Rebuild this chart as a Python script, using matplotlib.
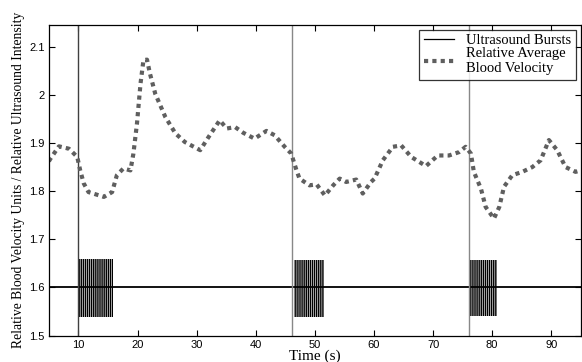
#!/usr/bin/env python3
"""Ultrasound bursts vs relative average blood velocity."""

import matplotlib

matplotlib.use("Agg")
import matplotlib.pyplot as plt
from matplotlib.lines import Line2D
from matplotlib.ticker import FormatStrFormatter

# Relative average blood velocity.
vel_t = [5.0, 5.3, 6.7, 8.4, 9.8, 10.3, 10.9, 11.7, 14.3, 15.7, 16.5, 17.6, 18.8,
         19.3, 19.9, 20.5, 21.0, 21.6, 22.1, 23.0, 24.7, 26.4, 28.0, 30.6, 32.0,
         33.9, 35.1, 36.5, 37.9, 39.8, 41.8, 43.2, 44.9, 46.0, 46.9, 47.4, 49.1,
         50.3, 51.7, 53.1, 54.2, 55.3, 57.0, 58.1, 59.5, 60.1, 61.5, 63.2, 64.6,
         66.3, 68.8, 70.8, 72.7, 74.4, 75.5, 76.4, 76.9, 78.1, 78.9, 80.3, 81.2,
         82.0, 83.4, 85.1, 86.8, 88.2, 89.6, 91.0, 92.4, 94.1, 95.0]
vel_v = [1.862, 1.868, 1.893, 1.888, 1.871, 1.843, 1.816, 1.798, 1.788, 1.798,
         1.833, 1.847, 1.843, 1.878, 1.940, 2.023, 2.072, 2.073, 2.044, 2.002,
         1.954, 1.920, 1.902, 1.885, 1.912, 1.947, 1.930, 1.933, 1.921, 1.909,
         1.925, 1.916, 1.892, 1.878, 1.843, 1.826, 1.812, 1.814, 1.791, 1.812,
         1.826, 1.819, 1.824, 1.795, 1.819, 1.826, 1.864, 1.892, 1.895, 1.871,
         1.852, 1.874, 1.874, 1.881, 1.892, 1.878, 1.840, 1.805, 1.767, 1.743,
         1.767, 1.809, 1.833, 1.840, 1.850, 1.864, 1.906, 1.885, 1.850, 1.840,
         1.843]

# Ultrasound bursts: start, end, min, max.
burst_start = [10.0, 46.4, 76.1]
burst_end = [15.8, 51.5, 80.8]
burst_low = [1.539, 1.539, 1.540]
burst_high = [1.660, 1.657, 1.657]
baseline = 1.6

# Burst onset markers.
onsets = [10.0, 46.2, 76.1]
onset_colors = ["#404040", "#888888", "#888888"]

serif = ["Liberation Serif", "DejaVu Serif"]
plt.rcParams["font.family"] = ["Liberation Sans", "DejaVu Sans"]
plt.rcParams["hatch.linewidth"] = 0.45

fig = plt.figure(figsize=(5.82, 3.62), dpi=100, facecolor="white")
ax = fig.add_axes([0.084, 0.073, 0.914, 0.858])

ax.plot([5, 95], [baseline, baseline], color="black", linewidth=1.3)
for s, e, lo, hi in zip(burst_start, burst_end, burst_low, burst_high):
    ax.fill_between([s, e], [lo, lo], [hi, hi], facecolor="black",
                    edgecolor="white", hatch="||||||||", linewidth=0)

for x, c in zip(onsets, onset_colors):
    ax.axvline(x, color=c, linewidth=1.0)

ax.plot(vel_t, vel_v, color="#5f5f5f", linewidth=3.0, linestyle=(0, (1, 1)),
        dash_capstyle="butt")

ax.set_xlim(5, 95)
ax.set_ylim(1.5, 2.145)
ax.set_xticks(range(10, 91, 10))
ax.set_yticks([1.5, 1.6, 1.7, 1.8, 1.9, 2.0, 2.1])
ax.yaxis.set_major_formatter(FormatStrFormatter("%g"))
ax.tick_params(direction="in", top=True, right=True, length=4, width=0.8,
               labelsize=8, pad=3)
for spine in ax.spines.values():
    spine.set_linewidth(0.9)

ax.set_xlabel("Time (s)", family=serif, fontsize=11, labelpad=0)
ax.set_ylabel("Relative Blood Velocity Units / Relative Ultrasound Intensity",
              family=serif, fontsize=9.8, labelpad=3)

handles = [
    Line2D([], [], color="black", linewidth=0.9),
    Line2D([], [], color="#5f5f5f", linewidth=3.0, linestyle=(0, (1, 1))),
]
leg = ax.legend(handles, ["Ultrasound Bursts", "Relative Average\nBlood Velocity"],
                loc="upper right", bbox_to_anchor=(0.99, 0.985),
                prop={"family": serif, "size": 10.5}, frameon=True, fancybox=False,
                handlelength=2.1, borderpad=0.3, labelspacing=0.0,
                handletextpad=0.8, borderaxespad=0.0)
leg.get_frame().set_edgecolor("black")
leg.get_frame().set_linewidth(0.9)

fig.savefig("out.png", dpi=100)
